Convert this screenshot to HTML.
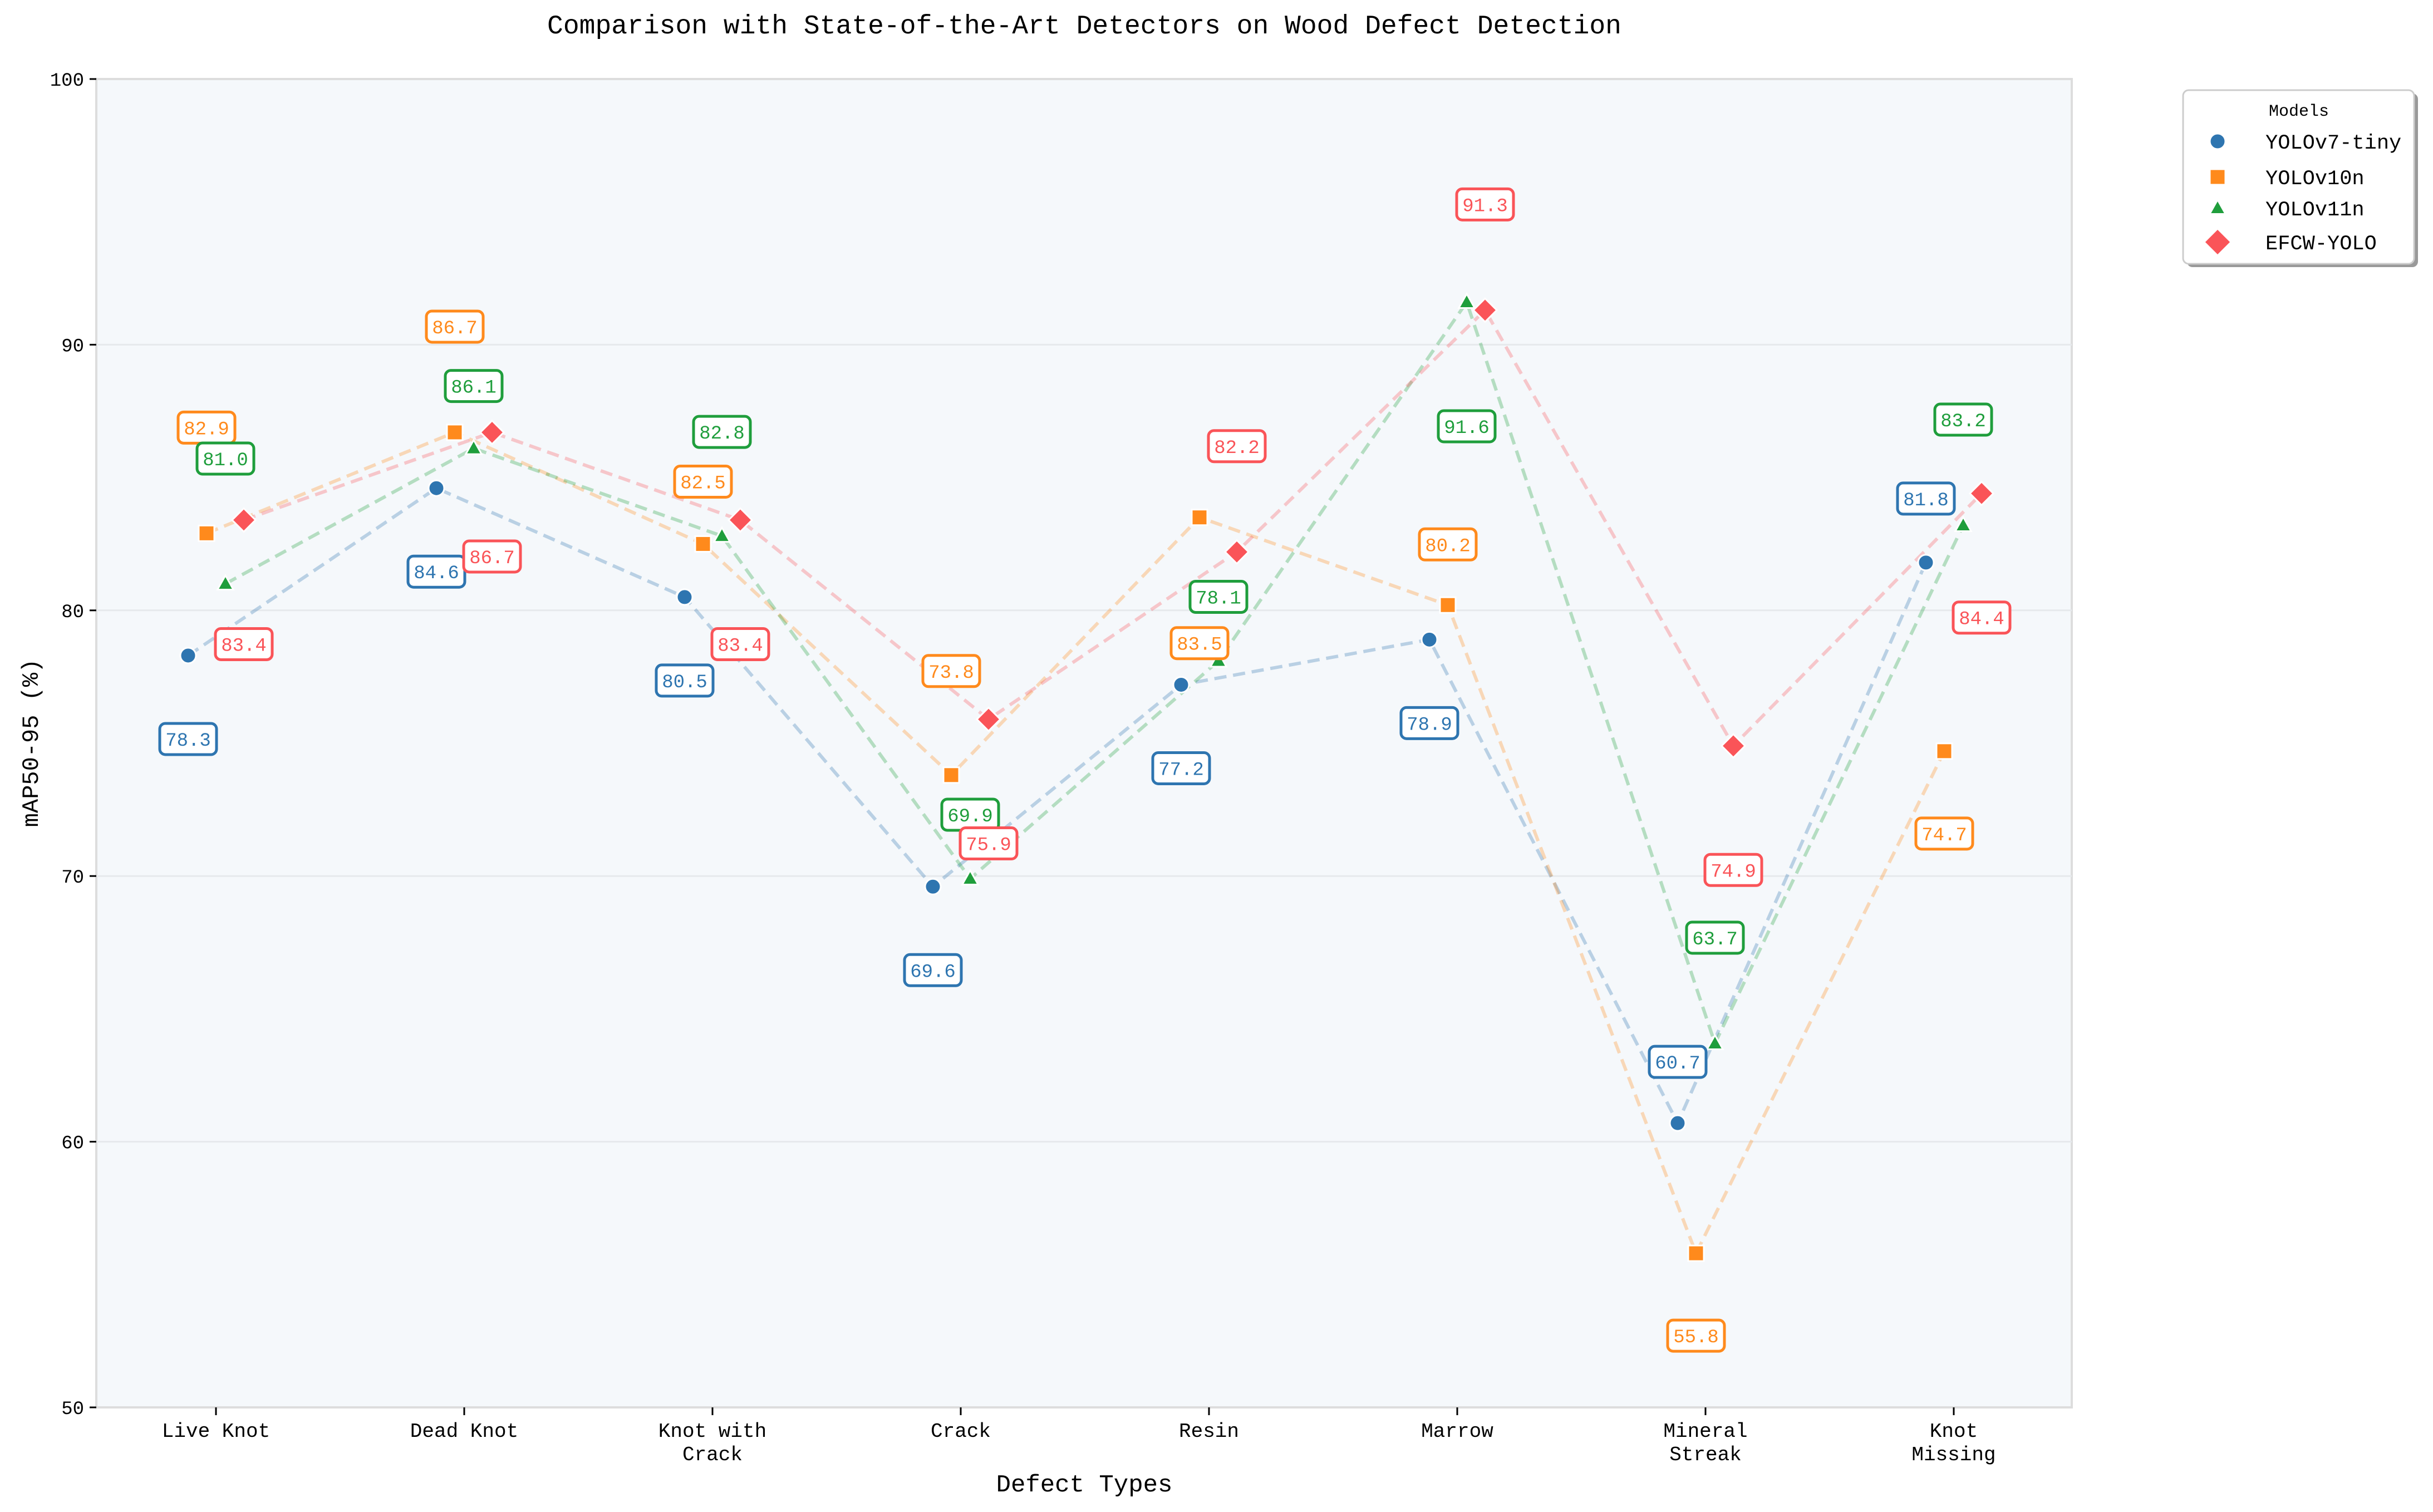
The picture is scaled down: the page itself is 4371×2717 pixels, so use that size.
<!DOCTYPE html>
<html><head><meta charset="utf-8"><style>
html,body{margin:0;padding:0;background:#fff;}
svg{display:block;}
text{font-family:"Liberation Mono","Noto Sans CJK SC",monospace;}
</style></head><body>
<svg id="chart" width="4371" height="2717" viewBox="0 0 4371 2717" xmlns="http://www.w3.org/2000/svg">
<text x="1948" y="60" font-size="48" text-anchor="middle" fill="#000">Comparison with State-of-the-Art Detectors on Wood Defect Detection</text>
<rect x="173" y="142" width="3549" height="2387" fill="#f5f8fb" stroke="#dddddd" stroke-width="4"/>
<g id="grid"></g>
<g id="axes"></g>
<g id="lines"></g>
<g id="markers"></g>
<g id="labels"></g>
<text x="1948" y="2680" font-size="44" text-anchor="middle" fill="#000">Defect Types</text>
<text x="0" y="0" font-size="42" text-anchor="middle" fill="#000" transform="translate(68,1335) rotate(-90)">mAP50-95 (%)</text>
<g>
<rect x="3929" y="168" width="415" height="312" rx="10" fill="#999"/>
<rect x="3922" y="162" width="415" height="312" rx="10" fill="#fff" stroke="#ccc" stroke-width="3"/>
<text x="4130" y="208" font-size="30" text-anchor="middle" fill="#000">Models</text>
<g id="legend-items"></g>
</g>
</svg>
<script>
const categories = ["Live Knot","Dead Knot","Knot with|Crack","Crack","Resin","Marrow","Mineral|Streak","Knot|Missing"];
const modelNames = ["YOLOv7-tiny","YOLOv10n","YOLOv11n","EFCW-YOLO"];
const yolov7tiny = [78.3,84.6,80.5,69.6,77.2,78.9,60.7,81.8];
const yolov10n = [82.9,86.7,82.5,73.8,83.5,80.2,55.8,74.7];
const yolov11n = [81.0,86.1,82.8,69.9,78.1,91.6,63.7,83.2];
const efcwyolo = [83.4,86.7,83.4,75.9,82.2,91.3,74.9,84.4];
const yTicks = [50,60,70,80,90,100];
const series = [yolov7tiny,yolov10n,yolov11n,efcwyolo];
// label offsets (layout, px): positive = below point
const labelDy = [
 [150,150,150,150,150,150,-110,-115],
 [-190,-190,-112,-187,226,-109,148,148],
 [-225,-112,-187,-115,-115,223,-190,-190],
 [223,223,223,223,-190,-190,223,223]
];
const colors = ["#2e75b0","#ff8a1c","#1f9e3c","#fa5458"];
const shapes = ["circle","square","triangle","diamond"];
const offsets = [-50,-17,17,50];
const NS="http://www.w3.org/2000/svg";
const L=173,R=3722,T=142,B=2529;
function xScale(i){return 388+i*446;}
function yScale(v){return B-(v-50)/50*(B-T);}
function mk(tag,attrs,parent){const e=document.createElementNS(NS,tag);for(const k in attrs)e.setAttribute(k,attrs[k]);parent.appendChild(e);return e;}
const grid=document.getElementById('grid'),axes=document.getElementById('axes');
yTicks.forEach(t=>{
  const y=yScale(t);
  if(t>50&&t<100){const g=mk('line',{x1:L,x2:R,y1:y,y2:y,stroke:'#e6e9ec','stroke-width':3},grid);
  
  }
  const tk=mk('line',{x1:L-12,x2:L,y1:y,y2:y,stroke:'#000','stroke-width':3},axes);
  
  
  const tx=mk('text',{x:L-22,y:y+12,'font-size':34,'text-anchor':'end',fill:'#000'},axes);
  tx.textContent=t;
  
  
});
categories.forEach((c,i)=>{
  const x=xScale(i);
  const tk=mk('line',{x1:x,x2:x,y1:B,y2:B+14,stroke:'#000','stroke-width':3},axes);
  
  
  const parts=c.split('|');
  parts.forEach((p,j)=>{
    const tx=mk('text',{x:x,y:B+53+j*42,'font-size':36,'text-anchor':'middle',fill:'#000'},axes);
    tx.textContent=p;
    
    
  });
});
function drawMarker(shape,x,y,color,parent,scale){
  scale=scale||1;let e;
  if(shape==='circle') e=mk('circle',{cx:x,cy:y,r:14*scale,fill:color,stroke:'#fff','stroke-width':3},parent);
  else if(shape==='square') e=mk('rect',{x:x-14*scale,y:y-14*scale,width:28*scale,height:28*scale,fill:color,stroke:'#fff','stroke-width':3},parent);
  else if(shape==='triangle'){const s=15*scale;e=mk('polygon',{points:`${x},${y-s} ${x+s*0.95},${y+s*0.7} ${x-s*0.95},${y+s*0.7}`,fill:color,stroke:'#fff','stroke-width':3},parent);}
  else {const s=21*scale;e=mk('polygon',{points:`${x},${y-s} ${x+s},${y} ${x},${y+s} ${x-s},${y}`,fill:color,stroke:'#fff','stroke-width':3},parent);}
  return e;
}
const lines=document.getElementById('lines'),markers=document.getElementById('markers'),labels=document.getElementById('labels');
series.forEach((vals,s)=>{
  const pts=vals.map((v,i)=>(xScale(i)+offsets[s])+','+yScale(v)).join(' ');
  const pl=mk('polyline',{points:pts,fill:'none',stroke:colors[s],'stroke-opacity':0.3,'stroke-width':6,'stroke-dasharray':'22,12'},lines);
  
  
});
series.forEach((vals,s)=>{
  vals.forEach((v,i)=>{
    const x=xScale(i)+offsets[s],y=yScale(v);
    const m=drawMarker(shapes[s],x,y,colors[s],markers);
    
    
    const ly=y+labelDy[s][i];
    const g=mk('g',{},labels);
    
    
    mk('rect',{x:x-51,y:ly-28,width:102,height:56,rx:10,fill:'#fff',stroke:colors[s],'stroke-width':5},g);
    const t=mk('text',{x:x,y:ly+12,'font-size':34,'text-anchor':'middle',fill:colors[s]},g);
    t.textContent=v.toFixed(1);
  });
});
const li=document.getElementById('legend-items');
modelNames.forEach((n,s)=>{
  const y=[254,318,374,435][s];
  const m=drawMarker(shapes[s],3984,y,colors[s],li,s===3?1.15:1);
  
  
  const t=mk('text',{x:4070,y:y+13,'font-size':37,fill:'#000'},li);
  t.textContent=n;
  
  
});
</script>
</body></html>
